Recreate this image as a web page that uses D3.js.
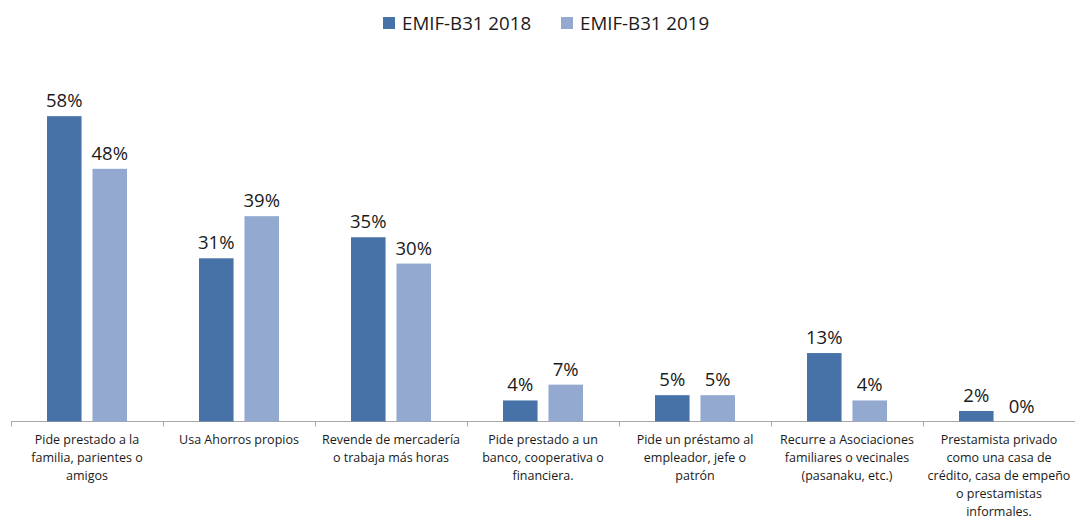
<!DOCTYPE html>
<html>
<head>
<meta charset="utf-8">
<script src="https://cdn.jsdelivr.net/npm/d3@7"></script>
<style>
  body { margin: 0; background: #fff; }
  text { font-family: "Open Sans", "Noto Sans", sans-serif; fill: #1a1a1a; }
</style>
</head>
<body>
<div class="chartArea"></div>
<script>
let width = 1075,
    height = 520

// categories (each label split into lines)
const categories = [
  ['Pide prestado a la', 'familia, parientes o', 'amigos'],
  ['Usa Ahorros propios'],
  ['Revende de mercadería', 'o trabaja más horas'],
  ['Pide prestado a un', 'banco, cooperativa o', 'financiera.'],
  ['Pide un préstamo al', 'empleador, jefe o', 'patrón'],
  ['Recurre a Asociaciones', 'familiares o vecinales', '(pasanaku, etc.)'],
  ['Prestamista privado', 'como una casa de', 'crédito, casa de empeño', 'o prestamistas', 'informales.']
]
const seriesNames = ['EMIF-B31 2018', 'EMIF-B31 2019']
const values2018 = [58, 31, 35, 4, 5, 13, 2]
const values2019 = [48, 39, 30, 7, 5, 4, 0]
const colors = ['#4672a8', '#93a9d0']

const svg = d3.select('.chartArea')
    .append('svg')
    .attr('width', width)
    .attr('height', height)

// x scale over categories, one band per category
const xScale = d3.scaleBand()
    .domain(d3.range(categories.length))
    .range([11, 1075])

// two bars inside each category
const xInner = d3.scaleBand()
    .domain([0, 1])
    .range([36, 116])
    .paddingInner(0.24)

const yScale = d3.scaleLinear()
    .domain([0, 70])
    .range([421.5, 53])

// axis line with tick marks at band edges
const axisY = yScale(0)
svg.append('line')
    .attr('x1', 11).attr('x2', 1075)
    .attr('y1', axisY).attr('y2', axisY)
    .attr('stroke', '#a6a6a6').attr('stroke-width', 1)

const edges = d3.range(categories.length + 1).map(i => 11 + i * xScale.step())
svg.selectAll('.tick')
    .data(edges)
    .enter()
    .append('line')
    .attr('x1', d => d + 0.5).attr('x2', d => d + 0.5)
    .attr('y1', axisY).attr('y2', axisY + 5)
    .attr('stroke', '#a6a6a6')

const series = [values2018, values2019]
series.forEach((vals, s) => {
  const g = svg.append('g')
  g.selectAll('rect')
      .data(vals)
      .enter()
      .append('rect')
      .attr('x', (d, i) => xScale(i) + xInner(s))
      .attr('width', xInner.bandwidth())
      .attr('y', d => yScale(d))
      .attr('height', d => yScale(0) - yScale(d))
      .attr('fill', colors[s])

  g.selectAll('text')
      .data(vals)
      .enter()
      .append('text')
      .attr('x', (d, i) => xScale(i) + xInner(s) + xInner.bandwidth() / 2)
      .attr('y', d => yScale(d) - 9)
      .attr('text-anchor', 'middle')
      .style('font-size', '18.5px')
      .text(d => d + '%')
})

// category labels
const catLabels = svg.selectAll('.cat')
    .data(categories)
    .enter()
    .append('text')
    .attr('class', 'cat')
    .attr('text-anchor', 'middle')
    .style('font-size', '12.5px')

catLabels.selectAll('tspan')
    .data((d, i) => d.map(line => ({line, i})))
    .enter()
    .append('tspan')
    .attr('x', d => xScale(d.i) + xScale.bandwidth() / 2)
    .attr('y', (d, j) => 444 + j * 18)
    .text(d => d.line)

// legend
const legend = svg.append('g')
const legendX = [383, 561]
seriesNames.forEach((name, s) => {
  legend.append('rect')
      .attr('x', legendX[s]).attr('y', 17)
      .attr('width', 12).attr('height', 12)
      .attr('fill', colors[s])
  legend.append('text')
      .attr('x', legendX[s] + 19).attr('y', 30)
      .style('font-size', '18.7px')
      .text(name)
})
</script>
</body>
</html>
